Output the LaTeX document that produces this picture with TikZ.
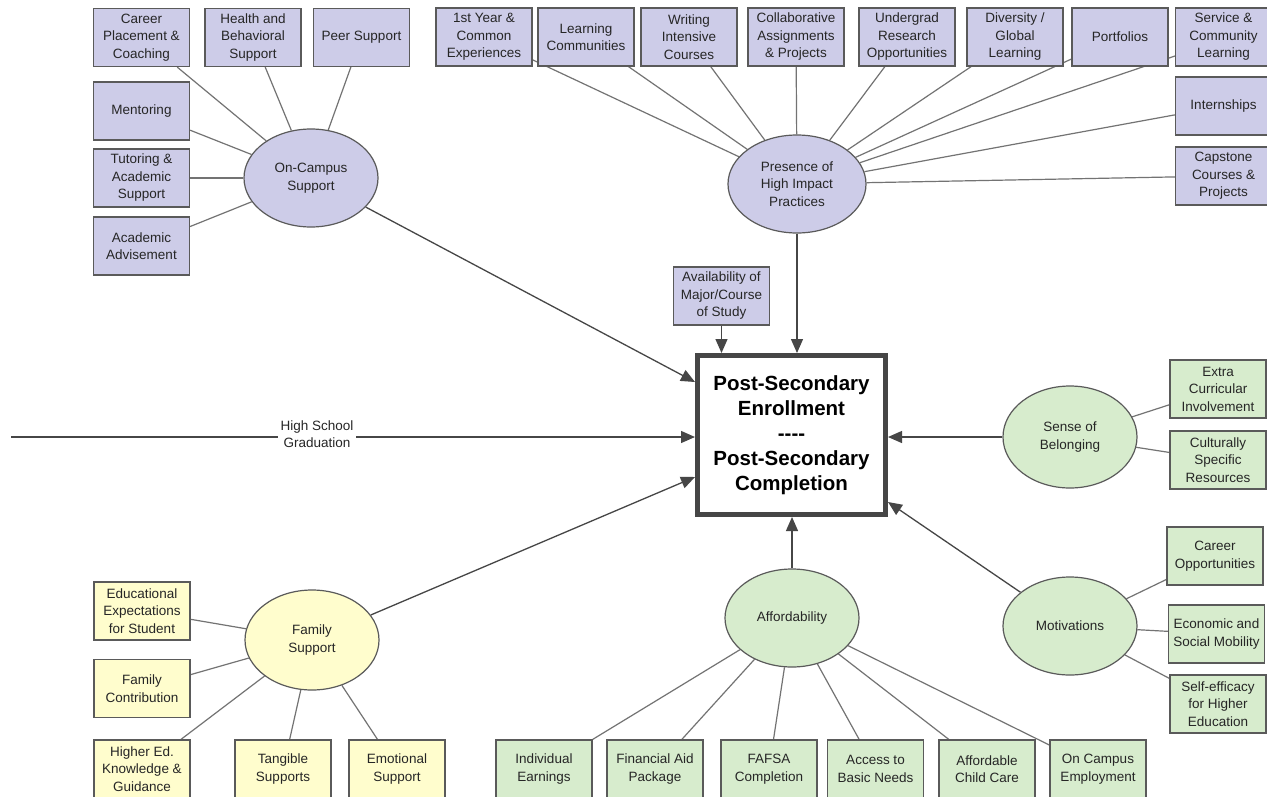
\documentclass[tikz,border=0pt]{standalone}
\usepackage{fontspec}
\setmainfont{Liberation Sans}
\usetikzlibrary{arrows.meta,shapes.geometric,calc}
\pgfdeclarelayer{bg}
\pgfsetlayers{bg,main}
\definecolor{purp}{RGB}{205,204,232}
\definecolor{grn}{RGB}{215,236,205}
\definecolor{yel}{RGB}{255,253,205}
\definecolor{edgec}{RGB}{90,90,90}
\definecolor{connc}{RGB}{115,115,115}
\definecolor{darkc}{RGB}{70,70,70}
\begin{document}
\begin{tikzpicture}[x=1pt,y=-1pt,
  box/.style={draw=edgec, line width=1.2pt, minimum width=96pt, minimum height=58pt,
    inner sep=0pt, align=center, font=\fontsize{13.5}{17.5}\selectfont, text=black!85},
  pbox/.style={box, fill=purp},
  gbox/.style={box, fill=grn},
  ybox/.style={box, fill=yel},
  oval/.style={ellipse, draw=edgec, line width=1.2pt, minimum width=134pt, minimum height=98pt,
    inner sep=0pt, align=center, font=\fontsize{13.5}{17.5}\selectfont, text=black!85},
  link/.style={draw=connc, line width=1.2pt},
  arr/.style={draw=darkc, line width=1.3pt, -{Triangle[length=14pt,width=12pt]}}
]
\useasboundingbox (0,0) rectangle (1267,796);
\clip (0,0) rectangle (1267,796);

% ---------- On-Campus Support ----------
\node[oval, fill=purp] (oncampus) at (311,178) {On-Campus\\Support};
\node[pbox] (career) at (141.5,37.5) {Career\\Placement \&\\Coaching};
\node[pbox] (health) at (253,37.5) {Health and\\Behavioral\\Support};
\node[pbox] (peer) at (361.5,37.5) {Peer Support};
\node[pbox] (mentor) at (141.5,111) {Mentoring};
\node[pbox] (tutor) at (141.5,178) {Tutoring \&\\Academic\\Support};
\node[pbox] (advise) at (141.5,246) {Academic\\Advisement};

% ---------- High Impact Practices ----------
\node[oval, fill=purp, minimum width=138pt] (hip) at (797,184) {Presence of\\High Impact\\Practices};
\node[pbox] (first) at (484,37) {1st Year \&\\Common\\Experiences};
\node[pbox] (learn) at (586,37) {Learning\\Communities};
\node[pbox] (write) at (689,37) {Writing\\Intensive\\Courses};
\node[pbox] (collab) at (796,37) {Collaborative\\Assignments\\\& Projects};
\node[pbox] (ugrad) at (907,37) {Undergrad\\Research\\Opportunities};
\node[pbox] (divers) at (1015,37) {Diversity /\\Global\\Learning};
\node[pbox] (portf) at (1120,37) {Portfolios};
\node[pbox] (service) at (1223.5,37) {Service \&\\Community\\Learning};
\node[pbox] (intern) at (1223.5,106) {Internships};
\node[pbox] (capst) at (1223.5,176) {Capstone\\Courses \&\\Projects};

\node[pbox] (avail) at (721.5,296) {Availability of\\Major/Course\\of Study};

% ---------- Central box ----------
\node[draw=darkc, line width=5pt, fill=white, minimum width=188pt, minimum height=159pt,
  inner sep=0pt, align=center, font=\bfseries\fontsize{20.5}{25}\selectfont] (ps) at (791.5,435)
  {Post-Secondary\\Enrollment\\-{}-{}-{}-\\Post-Secondary\\Completion};

% ---------- Sense of Belonging ----------
\node[oval, fill=grn, minimum height=102pt] (belong) at (1070,437) {Sense of\\Belonging};
\node[gbox] (extra) at (1218,389) {Extra\\Curricular\\Involvement};
\node[gbox] (cult) at (1218,460) {Culturally\\Specific\\Resources};

% ---------- Motivations ----------
\node[oval, fill=grn] (motiv) at (1070,626) {Motivations};
\node[gbox] (careeropp) at (1215,556) {Career\\Opportunities};
\node[gbox] (econ) at (1216.5,634) {Economic and\\Social Mobility};
\node[gbox] (selfeff) at (1218,704) {Self-efficacy\\for Higher\\Education};

% ---------- Affordability ----------
\node[oval, fill=grn] (afford) at (792,618) {Affordability};
\node[gbox] (indiv) at (544,769) {Individual\\Earnings};
\node[gbox] (finaid) at (655,769) {Financial Aid\\Package};
\node[gbox] (fafsa) at (769,769) {FAFSA\\Completion};
\node[gbox] (basic) at (875.5,769) {Access to\\Basic Needs};
\node[gbox] (child) at (987,769) {Affordable\\Child Care};
\node[gbox] (campemp) at (1098,769) {On Campus\\Employment};

% ---------- Family Support ----------
\node[oval, fill=yel, minimum height=100pt] (family) at (312,640) {Family\\Support};
\node[ybox] (expect) at (142,611) {Educational\\Expectations\\for Student};
\node[ybox] (contrib) at (142,688.5) {Family\\Contribution};
\node[ybox] (highed) at (142,769) {Higher Ed.\\Knowledge \&\\Guidance};
\node[ybox] (tangible) at (283,769) {Tangible\\Supports};
\node[ybox] (emot) at (397,769) {Emotional\\Support};

% ---------- High school label ----------
\node[fill=white, inner sep=3pt, align=center, font=\fontsize{13.5}{17.5}\selectfont, text=black!85]
  (hs) at (317,434) {High School\\Graduation};
\coordinate (hsstart) at (11,437);

% target points on the central box
\coordinate (tOC) at (ps.west |- 0,382);
\coordinate (tHS) at (ps.west |- 0,437);
\coordinate (tFam) at (ps.west |- 0,477);
\coordinate (tMot) at (ps.east |- 0,502);
\coordinate (tServ) at (1175,56);

\begin{pgfonlayer}{bg}
  \fill[white] (0,0) rectangle (1267,796);
  % On-campus spokes
  \foreach \n in {career,health,peer,mentor,tutor,advise}
    \draw[link] (\n) -- (oncampus);
  % HIP spokes
  \foreach \n in {first,learn,write,collab,ugrad,divers,portf,intern,capst}
    \draw[link] (\n) -- (hip);
  \draw[link] (hip) -- (tServ);
  % Belonging / motivations
  \foreach \n in {extra,cult}
    \draw[link] (\n) -- (belong);
  \foreach \n in {careeropp,econ,selfeff}
    \draw[link] (\n) -- (motiv);
  % Affordability
  \foreach \n in {indiv,finaid,fafsa,basic,child,campemp}
    \draw[link] (\n) -- (afford);
  % Family
  \foreach \n in {expect,contrib,highed,tangible,emot}
    \draw[link] (\n) -- (family);
  % arrows into central box
  \draw[arr] (oncampus) -- (tOC);
  \draw[arr] (hsstart) -- (tHS);
  \draw[arr] (family) -- (tFam);
  \draw[arr] (avail.south) -- (avail.south |- ps.north);
  \draw[arr] (hip) -- (hip |- ps.north);
  \draw[arr] (belong) -- (belong -| ps.east);
  \draw[arr] (motiv) -- (tMot);
  \draw[arr] (afford) -- (afford |- ps.south);
\end{pgfonlayer}
\end{tikzpicture}
\end{document}
